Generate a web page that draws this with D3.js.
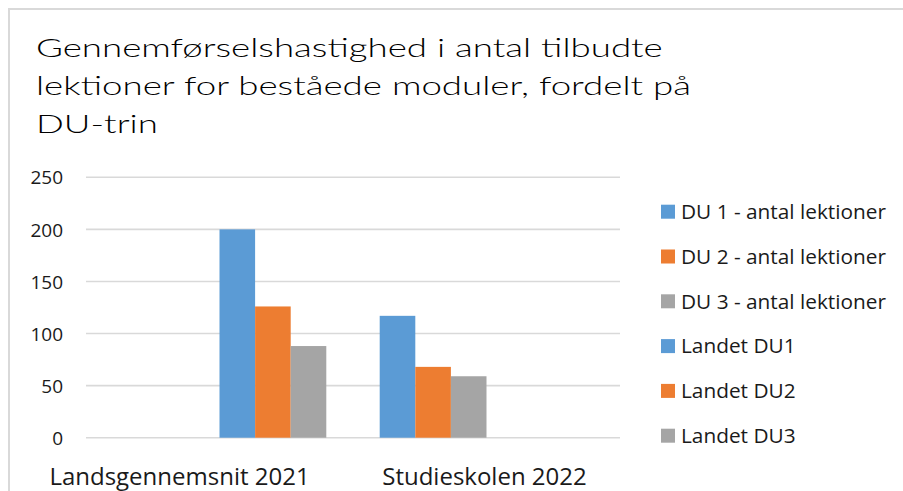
<!DOCTYPE html>
<html>
<head>
<meta charset="utf-8">
<script src="https://cdn.jsdelivr.net/npm/d3@7"></script>
<style>
  html, body { margin: 0; padding: 0; background: #fff; }
  svg { display: block; }
</style>
</head>
<body>
<svg id="chart" width="903" height="491"></svg>
<script>
const titleLines = ["Gennemførselshastighed i antal tilbudte", "lektioner for beståede moduler, fordelt på", "DU-trin"];
const categories = ["Landsgennemsnit 2021", "Studieskolen 2022"];
const seriesNames = ["DU 1 - antal lektioner", "DU 2 - antal lektioner", "DU 3 - antal lektioner", "Landet DU1", "Landet DU2", "Landet DU3"];
const du1 = [null, 117];
const du2 = [null, 68];
const du3 = [null, 59];
const landetDu1 = [200, null];
const landetDu2 = [126, null];
const landetDu3 = [88, null];
const yTicks = [0, 50, 100, 150, 200, 250];
const seriesColors = ["#5b9bd5", "#ed7d31", "#a5a5a5", "#5b9bd5", "#ed7d31", "#a5a5a5"];

const seriesValues = [du1, du2, du3, landetDu1, landetDu2, landetDu3];
const series = seriesNames.map((name, i) => ({ name, values: seriesValues[i], color: seriesColors[i] }));

const svg = d3.select("#chart");
svg.append("rect").attr("width", 903).attr("height", 491).attr("fill", "#fff");
// chart frame
svg.append("path").attr("d", "M9,491 L9,9 L903,9").attr("fill", "none").attr("stroke", "#d9d9d9").attr("stroke-width", 2);

// title (stretched horizontally to mimic the wide geometric face)
const titleG = svg.append("g");
const title = titleG.append("text").attr("font-family", "Lato, 'Open Sans', sans-serif")
  .attr("font-size", 26).attr("font-weight", 300).attr("fill", "#000");
const tspans = titleLines.map((l, i) =>
  title.append("tspan").attr("x", 0).attr("y", 57 + i * 38).text(l));
const w0 = tspans[0].node().getComputedTextLength();
const sx = w0 > 0 ? 627 / w0 : 1;
titleG.attr("transform", `translate(36,0) scale(${sx},1)`);

const plotLeft = 86, plotRight = 620, plotTop = 177.3, plotBottom = 437.7;
const y = d3.scaleLinear().domain([0, 250]).range([plotBottom, plotTop]);
const x0 = d3.scaleBand().domain(categories).range([plotLeft, plotRight]).paddingInner(0).paddingOuter(0);
const x1 = d3.scaleBand().domain(seriesNames).range([0, x0.bandwidth()]).paddingInner(0).paddingOuter(0.75);

// gridlines
svg.append("g").selectAll("line").data(yTicks).join("line")
  .attr("x1", plotLeft).attr("x2", plotRight)
  .attr("y1", d => y(d)).attr("y2", d => y(d))
  .attr("stroke", "#d9d9d9").attr("stroke-width", 1.6);

// y axis labels
const yAxis = d3.axisLeft(y).tickValues(yTicks).tickSize(0).tickPadding(0).tickFormat(d3.format("d"));
const yg = svg.append("g").attr("transform", "translate(63,0)").call(yAxis);
yg.select(".domain").remove();
yg.selectAll("text").attr("font-family", "'Open Sans', sans-serif").attr("font-size", 19).attr("fill", "#1a1a1a").attr("dy", "0.35em");

// bars
const gCat = svg.append("g").selectAll("g").data(categories).join("g")
  .attr("transform", c => `translate(${x0(c)},0)`);
gCat.selectAll("rect")
  .data((c, ci) => series.map(s => ({ name: s.name, value: s.values[ci], color: s.color })).filter(d => d.value != null))
  .join("rect")
  .attr("x", d => x1(d.name))
  .attr("width", x1.bandwidth())
  .attr("y", d => y(d.value))
  .attr("height", d => y(0) - y(d.value))
  .attr("fill", d => d.color);

// x labels
const labelShift = [-40, -2];
svg.append("g").selectAll("text").data(categories).join("text")
  .attr("x", (c, i) => x0(c) + x0.bandwidth() / 2 + labelShift[i])
  .attr("y", 485)
  .attr("text-anchor", "middle")
  .attr("font-family", "'Open Sans', sans-serif").attr("font-size", 24).attr("fill", "#1a1a1a")
  .text(c => c);

// legend
const lg = svg.append("g").selectAll("g").data(series).join("g")
  .attr("transform", (d, i) => `translate(661,${211.7 + i * 44.8})`);
lg.append("rect").attr("x", 0).attr("y", -7).attr("width", 14).attr("height", 14).attr("fill", d => d.color);
lg.append("text").attr("x", 20).attr("y", 0).attr("dy", "0.35em")
  .attr("font-family", "'Open Sans', sans-serif").attr("font-size", 20.8).attr("fill", "#1a1a1a")
  .text(d => d.name);
</script>
</body>
</html>
